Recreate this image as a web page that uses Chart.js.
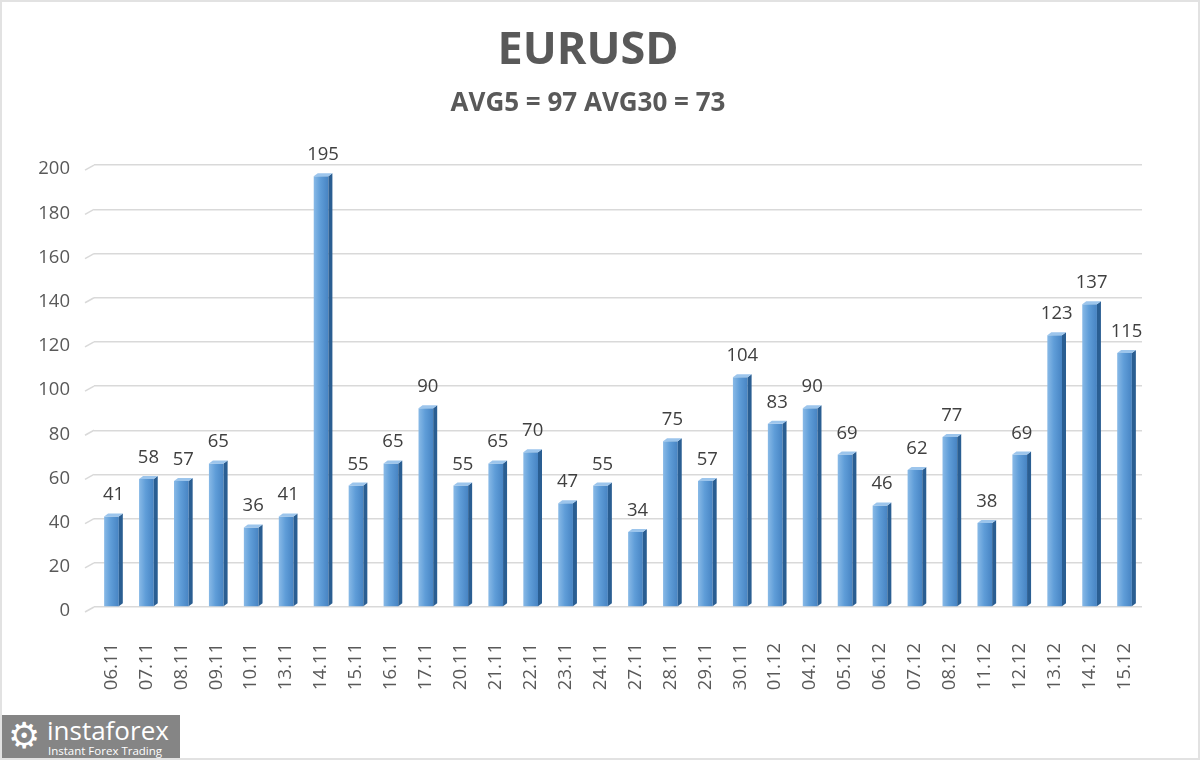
<!DOCTYPE html>
<html>
<head>
<meta charset="utf-8">
<script src="https://cdn.jsdelivr.net/npm/chart.js@4"></script>
<style>
	body { margin: 0; background: #fff; }
	#wrap { position: relative; width: 1200px; height: 760px; }
	#frame { position: absolute; left: 0; top: 0; width: 1196px; height: 756px; border: 2px solid #e2e2e2; pointer-events: none; }
	#logo { position: absolute; left: 0; top: 715px; width: 180px; height: 45px; background: #858585; color: #fff; font-family: 'Open Sans', sans-serif; overflow: hidden; }
	#logo .gear { position: absolute; left: 8px; top: 1px; font-family: 'DejaVu Sans'; font-size: 36px; line-height: 40px; }
	#logo .name { position: absolute; left: 47px; top: -2px; font-size: 26px; line-height: 34px; }
	#logo .tag { position: absolute; left: 48px; top: 29px; font-size: 11.5px; line-height: 13px; }
</style>
</head>
<body>
<div id="wrap">
	<canvas id="chart" width="1200" height="760"></canvas>
	<div id="logo"><span class="gear">⚙</span><span class="name">instaforex</span><span class="tag">Instant Forex Trading</span></div>
	<div id="frame"></div>
</div>
<script>
// --- DONNÉES --- //
const titleText = 'EURUSD';
const subtitleText = 'AVG5 = 97 AVG30 = 73';
const days = ['06.11','07.11','08.11','09.11','10.11','13.11','14.11','15.11','16.11','17.11',
	'20.11','21.11','22.11','23.11','24.11','27.11','28.11','29.11','30.11','01.12',
	'04.12','05.12','06.12','07.12','08.12','11.12','12.12','13.12','14.12','15.12'];
const volatility = [41,58,57,65,36,41,195,55,65,90,55,65,70,47,55,34,75,57,104,83,90,69,46,62,77,38,69,123,137,115];
const yMax = 200;
const yStep = 20;

const txtColor = '#595959';
const depthX = 4, depthY = 3;

// dégradé horizontal de la face avant
const frontFill = (c) => {
	const ch = c.chart;
	if (!ch.chartArea) return '#5b9bd5';
	const x = ch.scales.x.getPixelForValue(c.dataIndex);
	const g = ch.ctx.createLinearGradient(x - 7, 0, x + 7, 0);
	g.addColorStop(0, '#86b8e6');
	g.addColorStop(0.45, '#5f9dd8');
	g.addColorStop(1, '#4885c4');
	return g;
};

// Barres 3D + étiquettes
const bar3d = {
	id: 'bar3d',
	beforeDatasetsDraw(chart) {
		const ctx = chart.ctx, ys = chart.scales.y, left = chart.chartArea.left;
		ctx.save();
		ctx.strokeStyle = '#d9d9d9';
		ctx.lineWidth = 1.5;
		ys.ticks.forEach(t => {
			const py = ys.getPixelForValue(t.value);
			ctx.beginPath();
			ctx.moveTo(left - 9, py + 5);
			ctx.lineTo(left, py);
			ctx.stroke();
		});
		ctx.restore();
	},
	afterDatasetsDraw(chart) {
		const ctx = chart.ctx;
		const meta = chart.getDatasetMeta(0);
		ctx.save();
		meta.data.forEach((bar, i) => {
			const { x, y, base, width } = bar.getProps(['x', 'y', 'base', 'width'], true);
			const l = x - width / 2, r = x + width / 2;
			// côté
			ctx.fillStyle = '#2a5e92';
			ctx.beginPath();
			ctx.moveTo(r, y); ctx.lineTo(r + depthX, y - depthY);
			ctx.lineTo(r + depthX, base - depthY); ctx.lineTo(r, base);
			ctx.closePath(); ctx.fill();
			// dessus
			ctx.fillStyle = '#9cc5ec';
			ctx.beginPath();
			ctx.moveTo(l, y); ctx.lineTo(l + depthX, y - depthY);
			ctx.lineTo(r + depthX, y - depthY); ctx.lineTo(r, y);
			ctx.closePath(); ctx.fill();
			// valeur
			ctx.fillStyle = '#404040';
			ctx.font = '18.5px "Open Sans"';
			ctx.textAlign = 'center';
			ctx.textBaseline = 'alphabetic';
			ctx.fillText(volatility[i], x + 2, y - 16);
		});
		ctx.restore();
	}
};

new Chart(document.getElementById('chart'), {
	type: 'bar',
	data: {
		labels: days,
		datasets: [{
			data: volatility,
			backgroundColor: frontFill,
			borderWidth: 0,
			barPercentage: 0.42,
			categoryPercentage: 1
		}]
	},
	options: {
		responsive: false,
		animation: false,
		layout: { padding: { left: 0, right: 24, top: 0, bottom: 0 } },
		plugins: {
			legend: { display: false },
			tooltip: { enabled: false },
			title: {
				display: true, text: titleText, color: txtColor,
				font: { family: 'Open Sans', size: 45, weight: 'bold', lineHeight: 1.2 },
				padding: { top: 24, bottom: 10 }
			},
			subtitle: {
				display: true, text: subtitleText, color: txtColor,
				font: { family: 'Open Sans', size: 26, weight: 'bold', lineHeight: 1.2 },
				padding: { top: 0, bottom: 46 }
			}
		},
		scales: {
			x: {
				grid: { display: false },
				border: { display: false },
				ticks: {
					color: txtColor, autoSkip: false, minRotation: 90, maxRotation: 90, padding: 28,
					font: { family: 'Open Sans', size: 18.5 }
				},
				afterFit: (s) => { s.height = 153; }
			},
			y: {
				min: 0, max: yMax,
				grid: { color: '#d9d9d9', lineWidth: 1.5, drawTicks: false },
				border: { display: false },
				ticks: {
					stepSize: yStep, color: txtColor, padding: 24, labelOffset: 4,
					font: { family: 'Open Sans', size: 18.5 }
				},
				afterFit: (s) => { s.width = 94; }
			},
			// marge droite (garde le titre centré comme l'original)
			yRight: {
				position: 'right', min: 0, max: yMax,
				grid: { display: false },
				border: { display: false },
				ticks: { display: false },
				afterFit: (s) => { s.width = 34; }
			}
		}
	},
	plugins: [bar3d]
});
</script>
</body>
</html>
